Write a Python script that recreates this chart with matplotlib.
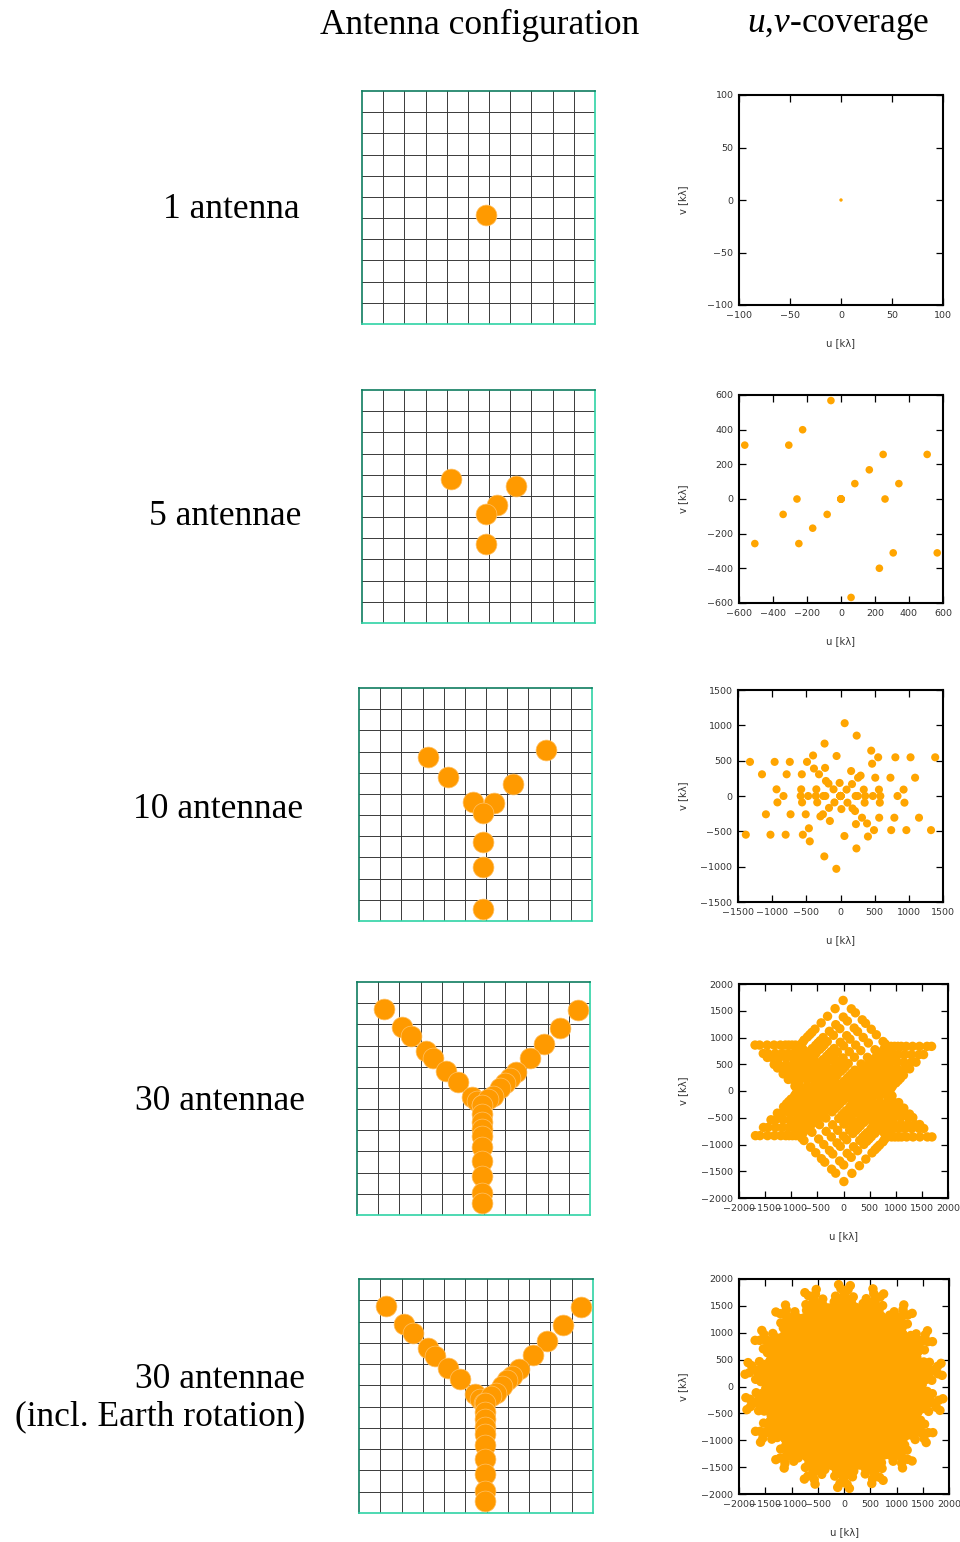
import numpy as np
import matplotlib.pyplot as plt

# antenna positions in grid cells (x to the right, y upwards)
ant1_x = [-0.13]
ant1_y = [0.14]

ant5_x = [-1.81, 1.26, 0.35, -0.13, -0.13]
ant5_y = [1.80, 1.48, 0.58, 0.14, -1.26]

ant10_x = [-2.74, -1.79, -0.64, 0.36, 1.27, 2.83, -0.13, -0.13, -0.13, -0.13]
ant10_y = [2.74, 1.79, 0.64, 0.57, 1.48, 3.07, 0.09, -1.27, -2.47, -4.42]

ant30_x = [-4.72, -3.87, -3.47, -2.76, -2.41, -1.81, -1.25, -0.57, -0.33, -0.12,
           4.43, 3.60, 2.83, 2.16, 1.53, 1.21, 0.98, 0.74, 0.42, 0.19,
           -0.08, -0.08, -0.08, -0.08, -0.08, -0.08, -0.08, -0.08, -0.08, -0.08]
ant30_y = [4.72, 3.87, 3.45, 2.74, 2.40, 1.81, 1.28, 0.59, 0.37, 0.17,
           4.68, 3.85, 3.07, 2.41, 1.77, 1.46, 1.23, 0.99, 0.64, 0.49,
           0.17, -0.25, -0.60, -0.95, -1.29, -1.81, -2.47, -3.18, -3.96, -4.43]

# rotation angles (deg) of the snapshots used for the rotation synthesis
hour_angles = [0, 20, 40, 60, 80, 100, 120, 140, 160]

klambda_per_cell = 185.0

row_labels = ["1 antenna", "5 antennae", "10 antennae", "30 antennae",
              "30 antennae\n(incl. Earth rotation)"]
uv_limits = [100, 600, 1500, 2000, 2000]
uv_ticks = [[-100, -50, 0, 50, 100],
            [-600, -400, -200, 0, 200, 400, 600],
            [-1500, -1000, -500, 0, 500, 1000, 1500],
            [-2000, -1500, -1000, -500, 0, 500, 1000, 1500, 2000],
            [-2000, -1500, -1000, -500, 0, 500, 1000, 1500, 2000]]
uv_marker = [6, 30, 34, 46, 46]


def baselines(xs, ys):
    xs = np.asarray(xs)
    ys = np.asarray(ys)
    dx = (xs[:, None] - xs[None, :]).ravel()
    dy = (ys[:, None] - ys[None, :]).ravel()
    return dy * klambda_per_cell, dx * klambda_per_cell


def rotate(u, v, angles):
    us, vs = [], []
    for a in np.radians(angles):
        us.append(u * np.cos(a) - v * np.sin(a))
        vs.append(u * np.sin(a) + v * np.cos(a))
    return np.concatenate(us), np.concatenate(vs)


configs = [(ant1_x, ant1_y), (ant5_x, ant5_y), (ant10_x, ant10_y),
           (ant30_x, ant30_y), (ant30_x, ant30_y)]

W, H = 960, 1542
fig = plt.figure(figsize=(W / 100, H / 100), dpi=100)


def px_axes(x, y, w, h):
    return fig.add_axes([x / W, 1 - (y + h) / H, w / W, h / H])


serif = "Liberation Serif"
plt.rcParams["mathtext.fontset"] = "custom"
plt.rcParams["mathtext.rm"] = serif
plt.rcParams["mathtext.it"] = serif + ":italic"

fig.text(480 / W, 1 - 25 / H, "Antenna configuration", family=serif,
         fontsize=25.5, ha="center", va="center")
fig.text(838 / W, 1 - 25 / H, r"$u$,$v$-coverage", family=serif,
         fontsize=25.5, ha="center", va="center")

grid_boxes = [(362, 91, 233, 233), (362, 390, 233, 233), (359, 688, 233, 233),
              (357, 982, 233, 233), (359, 1279, 234, 234)]
uv_boxes = [(739, 95, 204, 210), (739, 395, 204, 208), (738, 690, 205, 212),
            (739, 984, 209, 214), (739, 1279, 210, 215)]
label_pos = [(300, 210), (301, 517), (303, 809), (305, 1101), (305, 1398)]

for i, (xs, ys) in enumerate(configs):
    # antenna layout on the grid
    ax = px_axes(*grid_boxes[i])
    ax.set_xlim(-6, 5)
    ax.set_ylim(-5, 6)
    for k in range(-5, 5):
        ax.axvline(k, color="#3a3a3a", lw=0.7, zorder=1)
    for k in range(-4, 6):
        ax.axhline(k, color="#3a3a3a", lw=0.7, zorder=1)
    ax.scatter(xs, ys, s=225, color="#ff9a00", edgecolors="#ffc266",
               linewidths=0.5, zorder=3)
    ax.set_xticks([])
    ax.set_yticks([])
    for side in ["left", "top"]:
        ax.spines[side].set_color("#0f7d60")
    for side in ["right", "bottom"]:
        ax.spines[side].set_color("#2fd3a5")
    for sp in ax.spines.values():
        sp.set_linewidth(1.2)

    # uv-coverage
    u, v = baselines(xs, ys)
    if i == 4:
        u, v = rotate(u, v, hour_angles)
    bx, by, bw, bh = uv_boxes[i]
    ax2 = px_axes(bx, by, bw, bh)
    ax2.scatter(u, v, s=uv_marker[i], color="#ffa500",
                edgecolors="none", zorder=3)
    lim = uv_limits[i]
    ax2.set_xlim(-lim, lim)
    ax2.set_ylim(-lim, lim)
    ax2.set_xticks(uv_ticks[i])
    ax2.set_yticks(uv_ticks[i])
    ax2.tick_params(direction="in", top=True, right=True, length=5, width=0.9,
                    labelsize=6.8, labelcolor="#333333", pad=4)
    for sp in ax2.spines.values():
        sp.set_linewidth(1.5)
    ax2.set_xlabel("u [k\u03bb]", fontsize=7.2, color="#333333")
    ax2.set_ylabel("v [k\u03bb]", fontsize=7.2, color="#333333")
    ax2.xaxis.set_label_coords(0.5, -38 / bh)
    ax2.xaxis.label.set_va("center")
    ax2.yaxis.set_label_coords(-(bx - 683) / bw, 0.5)
    ax2.yaxis.label.set_va("center")

    lx, ly = label_pos[i]
    fig.text(lx / W, 1 - ly / H, row_labels[i], family=serif, fontsize=25.5,
             ha="right", va="center", multialignment="right",
             linespacing=1.2)

fig.savefig("out.png", dpi=100)
